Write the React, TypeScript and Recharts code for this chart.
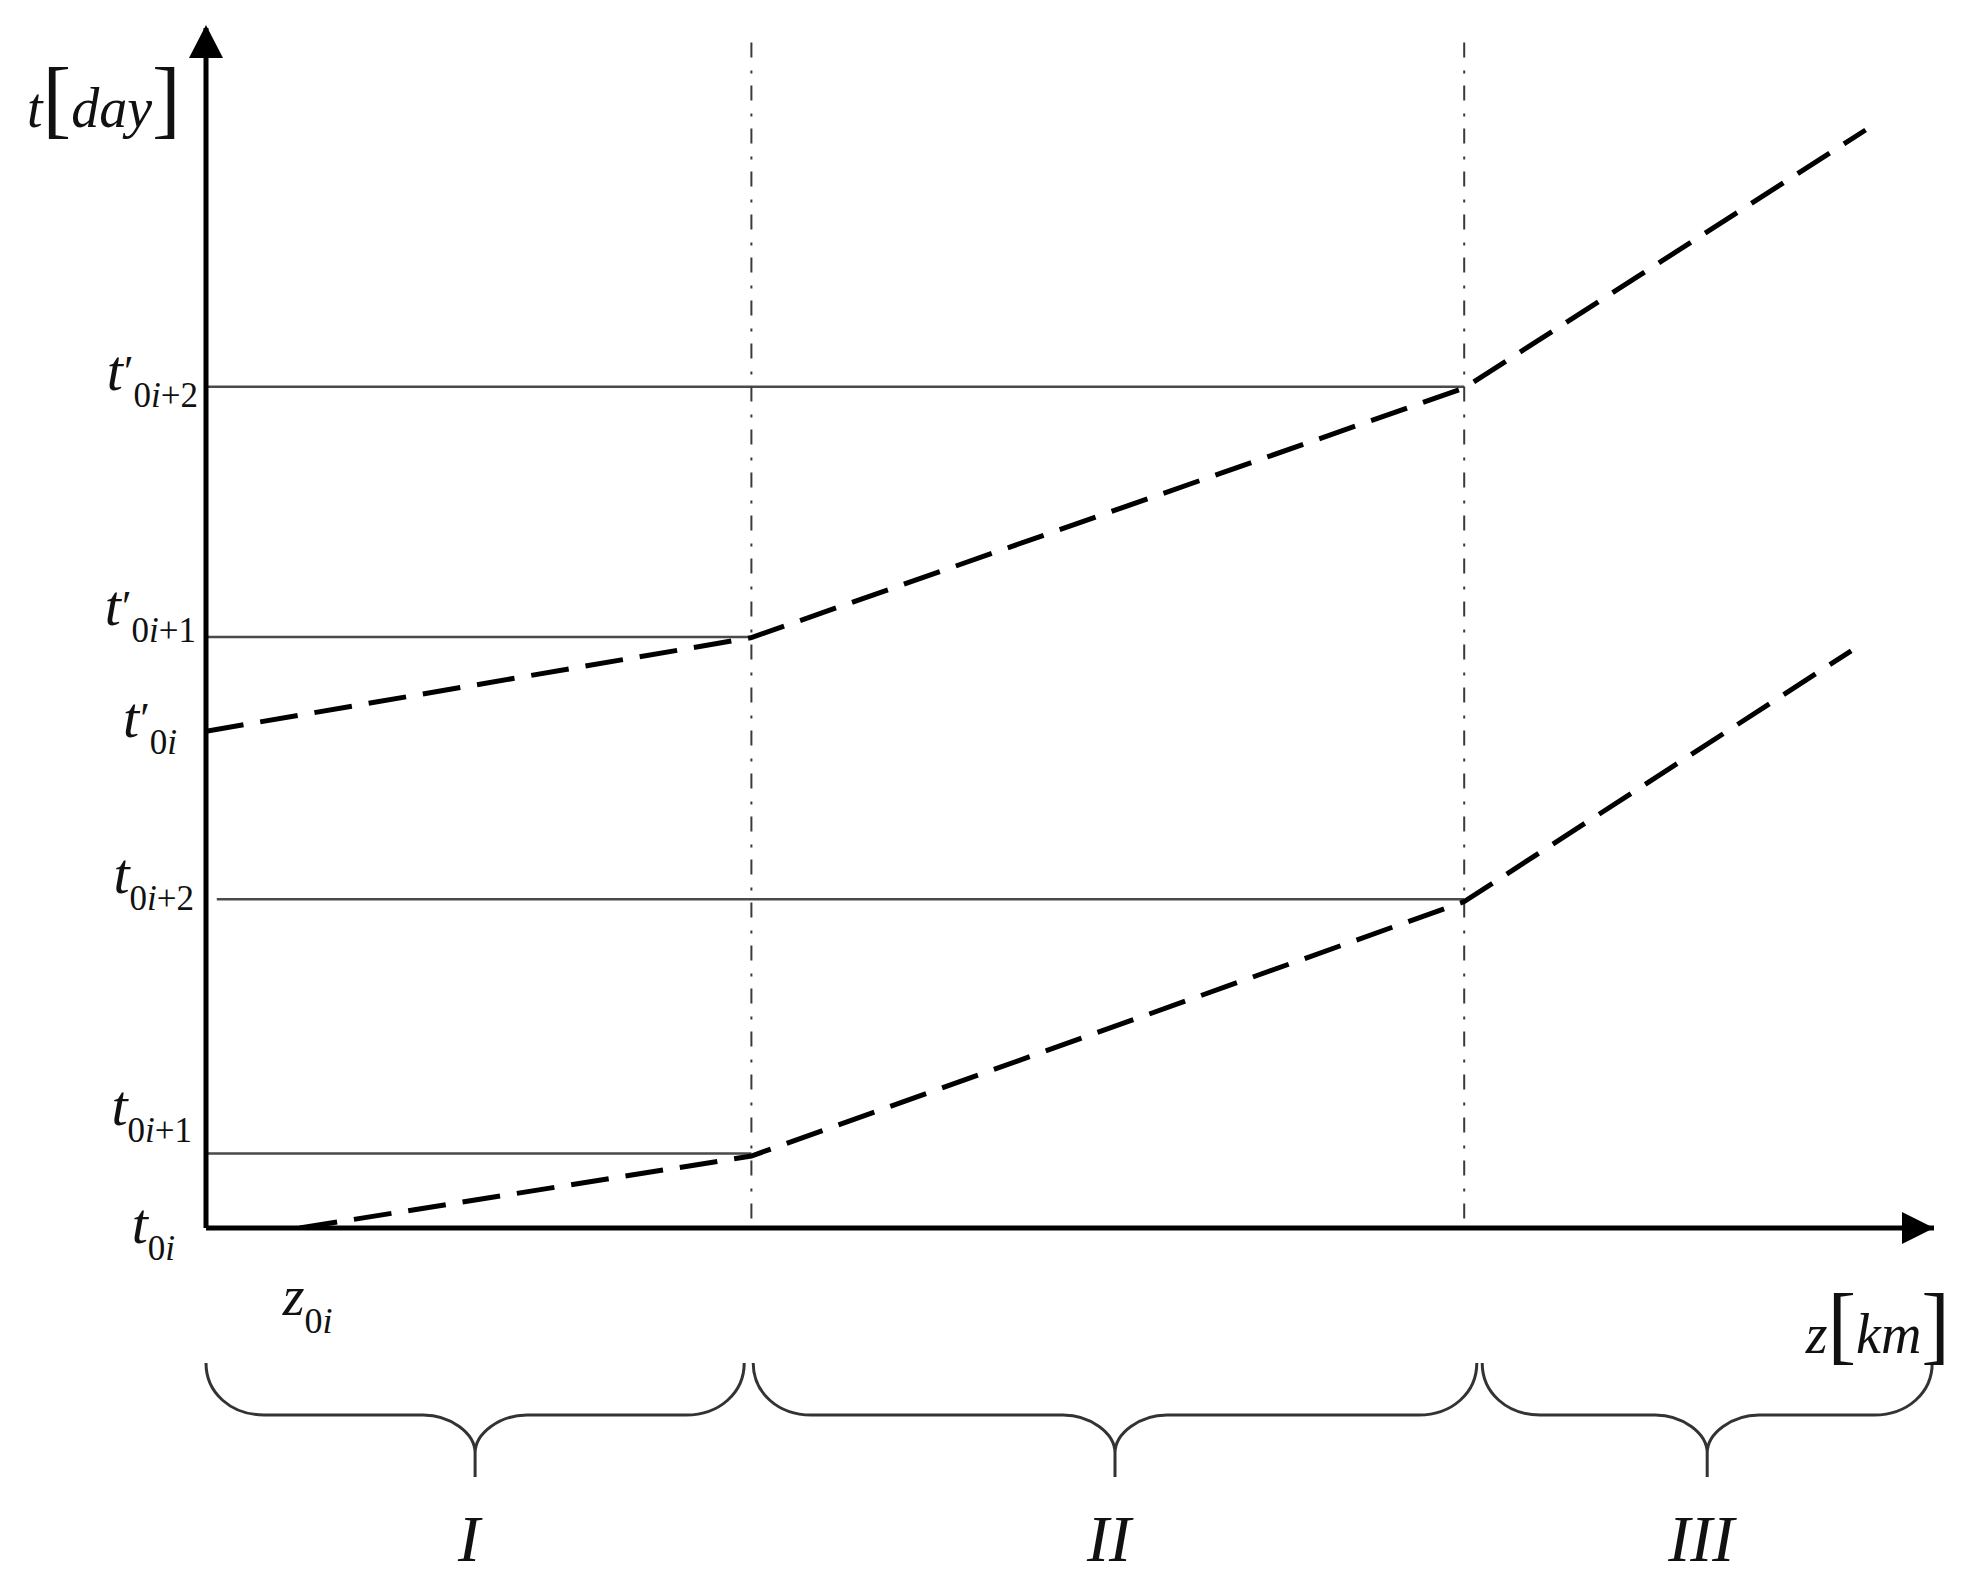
import React from 'react';
import {
  LineChart,
  Line,
  XAxis,
  YAxis,
  ReferenceLine,
  ReferenceArea,
  ReferenceDot,
  Label,
} from 'recharts';

// dashed curves: z [km] against t [day]
const zUpper = [0, 30.3, 69.9, 92.2];
const tUpper = [41.4, 49.2, 70.0, 91.5];
const zLower = [5.2, 30.3, 69.9, 91.4];
const tLower = [0, 6.0, 27.2, 48.1];

// zone borders (dash-dot verticals)
const zoneBorders = [30.3, 69.9];
const zoneBorderTop = 98.8;

// levels on the t axis
const levelValues = [0, 6.2, 27.4, 41.4, 49.25, 70.1];
const levelPrimed = [false, false, false, true, true, true];
const levelSubs = ['', '+1', '+2', '', '+1', '+2'];

// thin horizontal guides
const guideLevels = [6.2, 27.4, 49.25, 70.1];
const guideFrom = [0, 0.6, 0, 0];
const guideTo = [30.3, 69.9, 30.3, 69.9];

// braces under the axis
const zoneNames = ['I', 'II', 'III'];
const zoneStart = [0, 30.4, 70.9];
const zoneEnd = [29.9, 70.6, 95.9];

const zTicks = [5.2];

const upperData = zUpper.map((z, i) => ({ z, t: tUpper[i] }));
const lowerData = zLower.map((z, i) => ({ z, t: tLower[i] }));

const FONT = '"Liberation Serif", "Times New Roman", serif';
const INK = '#111';

// label nudges (px) for the t ticks, same order as levelValues
const LEVEL_DX = [-31, -14, -12, -29, -10, -8];
const LEVEL_DY = [15, -29, -6, 6, -12, 3];

function LevelTick(props: any) {
  const { x, y, payload } = props;
  const i = levelValues.indexOf(payload.value);
  if (i < 0) return null;
  const primed = levelPrimed[i];
  return (
    <text x={x + LEVEL_DX[i]} y={y + LEVEL_DY[i]} textAnchor="end" fill={INK} fontFamily={FONT}>
      <tspan fontSize={58} fontStyle="italic">t</tspan>
      {primed && (
        <tspan fontSize={44} dx={1} dy={-4}>
          ′
        </tspan>
      )}
      <tspan fontSize={35} dy={primed ? 21 : 17}>
        0
      </tspan>
      <tspan fontSize={35} fontStyle="italic">i</tspan>
      {levelSubs[i] && <tspan fontSize={35}>{levelSubs[i]}</tspan>}
    </text>
  );
}

function ZTick(props: any) {
  const { x, y } = props;
  return (
    <text x={x + 8} y={y + 87} textAnchor="middle" fill={INK} fontFamily={FONT}>
      <tspan fontSize={56} fontStyle="italic">z</tspan>
      <tspan fontSize={36} dy={18}>0</tspan>
      <tspan fontSize={36} fontStyle="italic">i</tspan>
    </text>
  );
}

function Brace(props: any) {
  const { x, y, width, height, numeral } = props;
  const mid = x + width / 2;
  const yh = y + 52;
  const yc = y + 90;
  const r = 58;
  const d =
    `M${x},${y} C${x},${y + 30} ${x + 25},${yh} ${x + r},${yh} ` +
    `L${mid - 52},${yh} C${mid - 25},${yh} ${mid},${yh + 18} ${mid},${yc} ` +
    `L${mid},${y + height} M${mid},${yc} ` +
    `C${mid},${yh + 18} ${mid + 25},${yh} ${mid + 52},${yh} ` +
    `L${x + width - r},${yh} C${x + width - 25},${yh} ${x + width},${y + 30} ${x + width},${y}`;
  return (
    <g>
      <path d={d} fill="none" stroke="#333" strokeWidth={3} />
      <text
        x={mid - 6}
        y={y + 198}
        textAnchor="middle"
        fill={INK}
        fontFamily={FONT}
        fontStyle="italic"
        fontSize={66}
      >
        {numeral}
      </text>
    </g>
  );
}

function AxisLabel({ x, y, anchor, name, unit }: any) {
  return (
    <text x={x} y={y} textAnchor={anchor} fill={INK} fontFamily={FONT}>
      <tspan fontSize={56} fontStyle="italic">{name}</tspan>
      <tspan fontSize={86} fontWeight={300}>[</tspan>
      <tspan fontSize={56} fontStyle="italic">{unit}</tspan>
      <tspan fontSize={86} fontWeight={300}>]</tspan>
    </text>
  );
}

export default function App() {
  return (
    <div style={{ position: 'absolute', left: 0, top: 0, width: 1979, height: 1596, background: '#fff' }}>
      <LineChart
        width={1979}
        height={1596}
        margin={{ top: 28, right: 45, bottom: 0, left: 0 }}
        style={{ fontFamily: FONT }}
      >
        <XAxis
          dataKey="z"
          type="number"
          domain={[0, 96]}
          allowDataOverflow
          ticks={zTicks}
          interval={0}
          height={368}
          tickSize={0}
          tickMargin={0}
          tickLine={false}
          axisLine={{ stroke: '#000', strokeWidth: 5 }}
          tick={<ZTick />}
        >
          <Label
            content={(p: any) => {
              const vb = p.viewBox || { x: 206, y: 1228, width: 1728 };
              return <AxisLabel x={vb.x + vb.width + 16} y={vb.y + 125} anchor="end" name="z" unit="km" />;
            }}
          />
        </XAxis>
        <YAxis
          type="number"
          domain={[0, 100]}
          allowDataOverflow
          ticks={levelValues}
          interval={0}
          width={206}
          tickSize={0}
          tickMargin={0}
          tickLine={false}
          axisLine={{ stroke: '#000', strokeWidth: 5 }}
          tick={<LevelTick />}
        >
          <Label
            content={(p: any) => {
              const vb = p.viewBox || { x: 0, y: 28 };
              return <AxisLabel x={vb.x + 27} y={vb.y + 99} anchor="start" name="t" unit="day" />;
            }}
          />
        </YAxis>

        {guideLevels.map((lv, i) => (
          <ReferenceLine
            key={`g${i}`}
            segment={[
              { x: guideFrom[i], y: lv },
              { x: guideTo[i], y: lv },
            ]}
            stroke="#4a4a4a"
            strokeWidth={2.5}
          />
        ))}
        {zoneBorders.map((b, i) => (
          <ReferenceLine
            key={`b${i}`}
            segment={[
              { x: b, y: zoneBorderTop },
              { x: b, y: 0 },
            ]}
            stroke="#3a3a3a"
            strokeWidth={2}
            strokeDasharray="15 13 3 12"
          />
        ))}

        {zoneNames.map((n, i) => (
          <ReferenceArea
            key={n}
            x1={zoneStart[i]}
            x2={zoneEnd[i]}
            y1={-11.25}
            y2={-20.75}
            ifOverflow="visible"
            shape={(p: any) => <Brace {...p} numeral={n} />}
          />
        ))}

        <Line
          data={upperData}
          dataKey="t"
          type="linear"
          stroke="#000"
          strokeWidth={5}
          strokeDasharray="38 17"
          dot={false}
          activeDot={false}
          isAnimationActive={false}
        />
        <Line
          data={lowerData}
          dataKey="t"
          type="linear"
          stroke="#000"
          strokeWidth={5}
          strokeDasharray="38 17"
          dot={false}
          activeDot={false}
          isAnimationActive={false}
        />

        <ReferenceDot
          x={96}
          y={0}
          ifOverflow="visible"
          shape={(p: any) => (
            <polygon
              points={`${p.cx},${p.cy} ${p.cx - 32},${p.cy - 16} ${p.cx - 32},${p.cy + 16}`}
              fill="#000"
            />
          )}
        />
        <ReferenceDot
          x={0}
          y={100}
          ifOverflow="visible"
          shape={(p: any) => (
            <polygon
              points={`${p.cx},${p.cy - 3} ${p.cx - 17},${p.cy + 30} ${p.cx + 17},${p.cy + 30}`}
              fill="#000"
            />
          )}
        />
      </LineChart>
    </div>
  );
}
